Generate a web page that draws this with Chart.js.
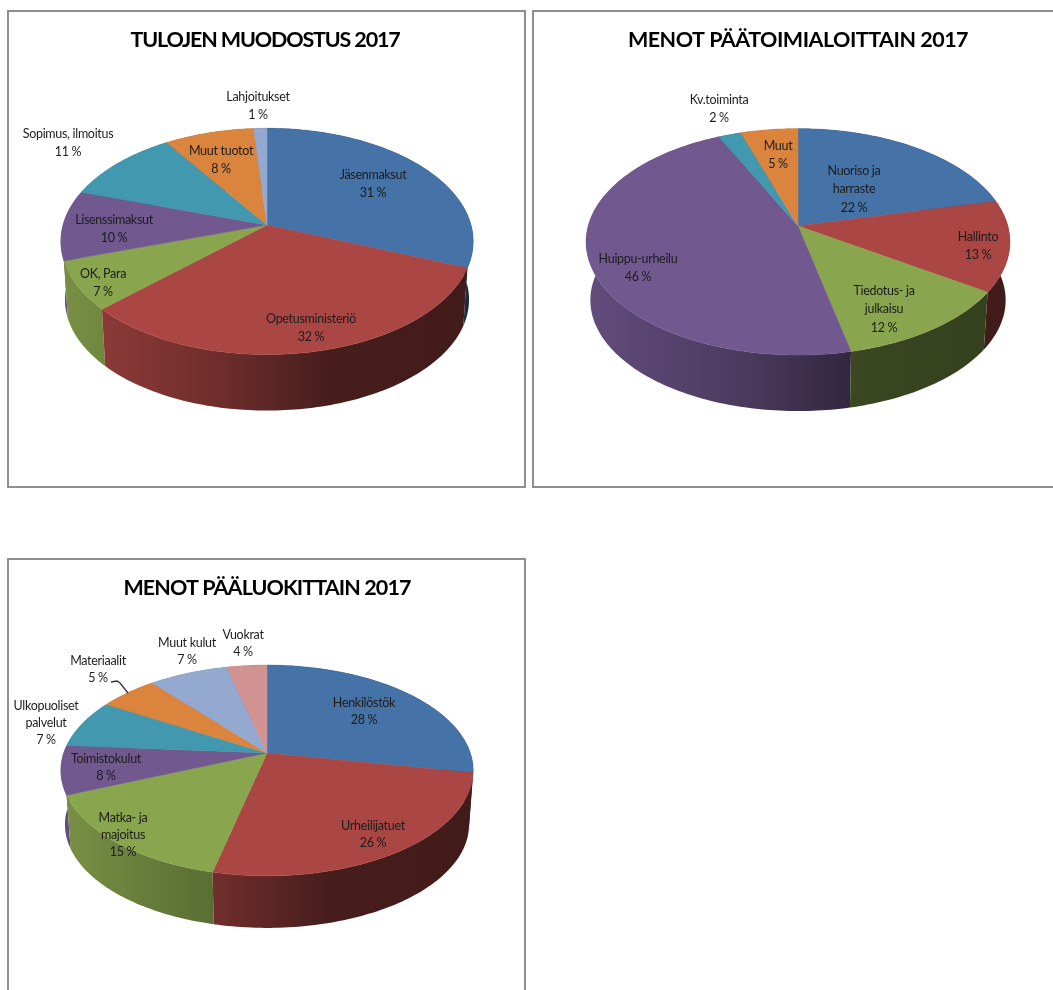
<!DOCTYPE html>
<html>
<head>
<meta charset="utf-8">
<script src="https://cdn.jsdelivr.net/npm/chart.js@4"></script>
<style>
html, body { margin: 0; padding: 0; background: #fff; overflow: hidden; width: 1053px; height: 990px; }
.caja { position: absolute; border: 2px solid #8f8f8f; box-sizing: border-box; background: #fff; }
canvas { display: block; filter: blur(0.4px); }
</style>
</head>
<body>
<div class="caja" style="left:7px;top:10px;width:519px;height:478px"><canvas id="tulot" width="514" height="473"></canvas></div>
<div class="caja" style="left:532px;top:10px;width:540px;height:478px"><canvas id="toimialat" width="527" height="473"></canvas></div>
<div class="caja" style="left:7px;top:558px;width:519px;height:450px"><canvas id="luokat" width="514" height="446"></canvas></div>

<script>
// colores de la serie
const colores = ['#4572A7', '#AA4643', '#89A54E', '#71588F', '#4198AF', '#DB843D', '#93A9CF', '#D19392'];

// TULOJEN MUODOSTUS
const tuloTitulo = 'TULOJEN MUODOSTUS 2017';
const tuloNimet = ['Jäsenmaksut', 'Opetusministeriö', 'OK, Para', 'Lisenssimaksut', 'Sopimus, ilmoitus', 'Muut tuotot', 'Lahjoitukset'];
const tuloValores = [31, 32, 7, 10, 10.7, 8.1, 1.2];
const tuloTextos = ['31 %', '32 %', '7 %', '10 %', '11 %', '8 %', '1 %'];

// MENOT PAATOIMIALOITTAIN
const toimiTitulo = 'MENOT PÄÄTOIMIALOITTAIN 2017';
const toimiNimet = ['Nuoriso ja\nharraste', 'Hallinto', 'Tiedotus- ja\njulkaisu', 'Huippu-urheilu', 'Kv.toiminta', 'Muut'];
const toimiValores = [21.3, 13, 12.2, 46.5, 2, 5];
const toimiTextos = ['22 %', '13 %', '12 %', '46 %', '2 %', '5 %'];

// MENOT PAALUOKITTAIN
const luokTitulo = 'MENOT PÄÄLUOKITTAIN 2017';
const luokNimet = ['Henkilöstök', 'Urheilijatuet', 'Matka- ja\nmajoitus', 'Toimistokulut', 'Ulkopuoliset\npalvelut', 'Materiaalit', 'Muut kulut', 'Vuokrat'];
const luokValores = [28, 25.6, 15.1, 7.5, 7.4, 5.4, 7.3, 3.7];
const luokTextos = ['28 %', '26 %', '15 %', '8 %', '7 %', '5 %', '7 %', '4 %'];

// sitio de las etiquetas: x centro, y primera linea (pagina)
const tuloSitios = [[373, 175], [311, 319], [103, 274], [114, 220], [68, 134], [221, 151], [258, 97]];
const toimiSitios = [[854, 171], [978, 237], [884, 291], [638, 259], [719, 100], [778, 146]];
const luokSitios = [[364, 703], [373, 826], [123, 818], [106, 759], [46, 706], [98, 661], [187, 643], [243, 635]];

const LETRA = 'Lato, Carlito, Calibri, sans-serif';
const TAM_TITULO = 21.5;
const TAM_ETIQUETA = 12.5;
const PAD_TITULO = { top: 15, bottom: 8 };

// oscurecido del lateral segun la posicion horizontal
const sombraLateral = [[0, 0.88], [0.37, 0.66], [0.65, 0.42], [1, 0.38]];

function oscurece(hex, f) {
    const n = parseInt(hex.slice(1), 16);
    return 'rgb(' + Math.round((n >> 16) * f) + ',' + Math.round(((n >> 8) & 255) * f) + ',' + Math.round((n & 255) * f) + ')';
}

// de angulo de la tarta a punto en pantalla, con perspectiva
function proyecta(arco, ang, cfg, abajo) {
    const u = Math.cos(ang);
    const v = Math.sin(ang);
    const d = 1 - cfg.persp * v;
    const x = arco.outerRadius * u / d;
    const y = arco.outerRadius * cfg.aplasta * v / d;
    if (!abajo) return [arco.x + x, arco.y + y];
    return [arco.x + x * cfg.encoge, arco.y + y * cfg.encoge + cfg.grosor];
}

function trazaBorde(ctx, arco, cfg, ini, fin, abajo, seguir) {
    const pasos = Math.max(2, Math.ceil(Math.abs(fin - ini) / 0.02));
    for (let i = 0; i <= pasos; i++) {
        const p = proyecta(arco, ini + (fin - ini) * i / pasos, cfg, abajo);
        if (i == 0 && !seguir) ctx.moveTo(p[0], p[1]); else ctx.lineTo(p[0], p[1]);
    }
}

const tarta3d = {
    id: 'tarta3d',
    afterLayout(chart, args, cfg) {
        // el titulo no va centrado del todo
        chart.titleBlock.left += cfg.tituloDx;
        chart.titleBlock.right += cfg.tituloDx;
    },
    beforeDraw(chart, args, cfg) {
        chart.ctx.letterSpacing = cfg.espaciado + 'px';
    },
    beforeDatasetsDraw(chart, args, cfg) {
        const ctx = chart.ctx;
        const arcos = chart.getDatasetMeta(0).data;
        const fondos = chart.data.datasets[0].backgroundColor;
        const orden = arcos.map((a, i) => i).sort((a, b) =>
            Math.sin((arcos[a].startAngle + arcos[a].endAngle) / 2) - Math.sin((arcos[b].startAngle + arcos[b].endAngle) / 2));

        ctx.save();
        // laterales, de atras hacia delante
        orden.forEach(i => {
            const a = arcos[i];
            const izq = a.x - a.outerRadius * 1.02;
            const grad = ctx.createLinearGradient(izq, 0, izq + a.outerRadius * 2.04, 0);
            sombraLateral.forEach(s => grad.addColorStop(s[0], oscurece(fondos[i], s[1])));
            ctx.beginPath();
            trazaBorde(ctx, a, cfg, a.startAngle, a.endAngle, false, false);
            trazaBorde(ctx, a, cfg, a.endAngle, a.startAngle, true, true);
            ctx.closePath();
            ctx.fillStyle = grad;
            ctx.fill();
        });
        // cara de arriba
        arcos.forEach((a, i) => {
            ctx.beginPath();
            ctx.moveTo(a.x, a.y);
            trazaBorde(ctx, a, cfg, a.startAngle, a.endAngle, false, true);
            ctx.closePath();
            ctx.fillStyle = fondos[i];
            ctx.strokeStyle = fondos[i];
            ctx.lineWidth = 0.5;
            ctx.fill();
            ctx.stroke();
        });
        // linea guia
        if (cfg.guia) {
            ctx.beginPath();
            cfg.guia.forEach((p, i) => {
                if (i == 0) ctx.moveTo(p[0] - cfg.origen[0], p[1] - cfg.origen[1]);
                else ctx.lineTo(p[0] - cfg.origen[0], p[1] - cfg.origen[1]);
            });
            ctx.strokeStyle = '#333';
            ctx.lineWidth = 1.3;
            ctx.stroke();
        }
        // etiquetas
        ctx.font = TAM_ETIQUETA + 'px ' + LETRA;
        ctx.letterSpacing = '-0.3px';
        ctx.fillStyle = '#1d1d1d';
        ctx.textAlign = 'center';
        ctx.textBaseline = 'middle';
        chart.data.labels.forEach((nombre, i) => {
            const lineas = nombre.split('\n').concat(cfg.textos[i]);
            lineas.forEach((l, j) => {
                ctx.fillText(l, cfg.sitios[i][0] - cfg.origen[0], cfg.sitios[i][1] + j * cfg.interlinea - cfg.origen[1]);
            });
        });
        ctx.letterSpacing = '0px';
        ctx.restore();
        return false;
    }
};

function crearTarta(id, titulo, nombres, valores, textos, sitios, geo) {
    const lienzo = document.getElementById(id);
    const altoTitulo = TAM_TITULO * 1.2 + PAD_TITULO.top + PAD_TITULO.bottom;
    new Chart(lienzo, {
        type: 'pie',
        data: {
            labels: nombres,
            datasets: [{ data: valores, backgroundColor: colores.slice(0, valores.length), borderWidth: 0, radius: geo.radio }]
        },
        plugins: [tarta3d],
        options: {
            responsive: false,
            animation: false,
            layout: {
                padding: {
                    left: Math.max(0, 2 * (geo.cx - geo.origen[0]) - lienzo.width),
                    right: Math.max(0, lienzo.width - 2 * (geo.cx - geo.origen[0])),
                    top: 0,
                    bottom: lienzo.height + altoTitulo - 2 * (geo.cy - geo.origen[1])
                }
            },
            plugins: {
                legend: { display: false },
                tooltip: { enabled: false },
                title: {
                    display: true,
                    text: titulo,
                    color: '#000',
                    font: { family: LETRA, size: TAM_TITULO, weight: 'bold', lineHeight: 1.2 },
                    padding: PAD_TITULO
                },
                tarta3d: {
                    aplasta: geo.aplasta, persp: geo.persp, encoge: 0.98, grosor: geo.grosor,
                    origen: geo.origen, interlinea: geo.interlinea, guia: geo.guia,
                    espaciado: geo.espaciado, tituloDx: geo.tituloDx,
                    textos: textos, sitios: sitios
                }
            }
        }
    });
}

crearTarta('tulot', tuloTitulo, tuloNimet, tuloValores, tuloTextos, tuloSitios,
    { cx: 267, cy: 225, radio: 204, aplasta: 0.543, persp: 0.145, grosor: 58.6, interlinea: 18, origen: [9, 12], espaciado: -1.15, tituloDx: -2 });

crearTarta('toimialat', toimiTitulo, toimiNimet, toimiValores, toimiTextos, toimiSitios,
    { cx: 798, cy: 226, radio: 209.8, aplasta: 0.529, persp: 0.14, grosor: 58.6, interlinea: 18.3, origen: [534, 12], espaciado: -0.5, tituloDx: 0 });

crearTarta('luokat', luokTitulo, luokNimet, luokValores, luokTextos, luokSitios,
    { cx: 267, cy: 753, radio: 203.3, aplasta: 0.504, persp: 0.166, grosor: 54.5, interlinea: 17, origen: [9, 560], espaciado: -0.9, tituloDx: 0,
      guia: [[111, 682], [117, 681], [120, 683], [128, 693]] });
</script>
</body>
</html>
